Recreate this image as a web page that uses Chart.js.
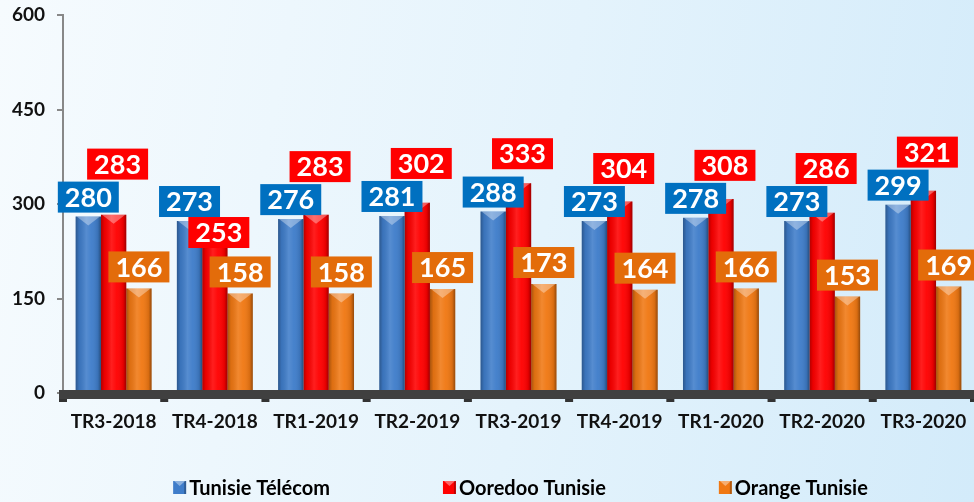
<!DOCTYPE html>
<html>
<head>
<meta charset="utf-8">
<script src="https://cdn.jsdelivr.net/npm/chart.js@4.4.1/dist/chart.umd.min.js"></script>
<style>
  html, body { margin: 0; padding: 0; }
  body {
    width: 974px; height: 502px; overflow: hidden;
    background: linear-gradient(100deg, #f6fbfe 0%, #e4f3fc 55%, #d3ebfa 100%);
  }
  #wrap { position: relative; width: 974px; height: 502px; }
</style>
</head>
<body>
<div id="wrap"><canvas id="chart" width="974" height="502"></canvas></div>
<script>
var quarters = ['TR3-2018', 'TR4-2018', 'TR1-2019', 'TR2-2019', 'TR3-2019', 'TR4-2019', 'TR1-2020', 'TR2-2020', 'TR3-2020'];
var tunisieTelecom = [280, 273, 276, 281, 288, 273, 278, 273, 299];
var ooredooTunisie = [283, 253, 283, 302, 333, 304, 308, 286, 321];
var orangeTunisie = [166, 158, 158, 165, 173, 164, 166, 153, 169];
var yTicks = [0, 150, 300, 450, 600];

var FONT = 'Lato, "Open Sans", sans-serif';

// 3D-ish shading on top of the flat bars
var barShade = {
  id: 'barShade',
  afterDatasetsDraw: function (chart) {
    var ctx = chart.ctx;
    ctx.save();
    chart.data.datasets.forEach(function (ds, d) {
      var meta = chart.getDatasetMeta(d);
      meta.data.forEach(function (el) {
        var p = el.getProps(['x', 'y', 'base', 'width'], true);
        var left = p.x - p.width / 2, right = p.x + p.width / 2;
        var g = ctx.createLinearGradient(left, 0, right, 0);
        g.addColorStop(0, 'rgba(0,0,0,0.30)');
        g.addColorStop(0.14, 'rgba(0,0,0,0.08)');
        g.addColorStop(0.42, 'rgba(255,255,255,0.12)');
        g.addColorStop(0.62, 'rgba(255,255,255,0.04)');
        g.addColorStop(0.88, 'rgba(0,0,0,0.10)');
        g.addColorStop(1, 'rgba(0,0,0,0.38)');
        ctx.fillStyle = g;
        ctx.fillRect(left, p.y, p.width, p.base - p.y);
        // bevelled top
        ctx.beginPath();
        ctx.moveTo(left + 1, p.y);
        ctx.lineTo(right - 1, p.y);
        ctx.lineTo(p.x, p.y + 9);
        ctx.closePath();
        ctx.fillStyle = 'rgba(255,255,255,0.35)';
        ctx.fill();
      });
    });

    // dark floor under the bars
    var area = chart.chartArea;
    var y0 = chart.scales.y.getPixelForValue(0);
    ctx.fillStyle = '#404040';
    ctx.fillRect(area.left - 4, y0 - 3, area.right - area.left + 4, 9);
    var step = (area.right - area.left) / quarters.length;
    ctx.fillStyle = '#333333';
    for (var i = 0; i <= quarters.length; i++) {
      var bx = area.left + i * step;
      ctx.fillRect(bx - 4, y0 + 6, 8, 3);
    }
    ctx.restore();
  }
};

function labelBox(ctx, text, cx, bottom, color) {
  var w = ctx.measureText(text).width + 14, h = 31;
  ctx.fillStyle = color;
  ctx.fillRect(cx - w / 2, bottom - h, w, h);
  ctx.fillStyle = '#ffffff';
  ctx.fillText(text, cx, bottom - h / 2 + 1);
  return bottom - h;
}

var valueLabels = {
  id: 'valueLabels',
  afterDatasetsDraw: function (chart) {
    var ctx = chart.ctx;
    var blue = chart.getDatasetMeta(0).data;
    var red = chart.getDatasetMeta(1).data;
    var org = chart.getDatasetMeta(2).data;
    ctx.save();
    ctx.font = 'bold 27px ' + FONT;
    ctx.textAlign = 'center';
    ctx.textBaseline = 'middle';
    for (var i = 0; i < quarters.length; i++) {
      labelBox(ctx, String(orangeTunisie[i]), org[i].x, org[i].y - 6, '#e36c0a');
      var blueBottom = blue[i].y - 4;
      var blueTop = blueBottom - 31;
      var redBottom;
      if (ooredooTunisie[i] >= tunisieTelecom[i]) {
        redBottom = Math.min(red[i].y - 14, blueTop - 2);
      } else {
        redBottom = blueBottom + 31;
      }
      labelBox(ctx, String(ooredooTunisie[i]), red[i].x + 4, redBottom, '#ff0000');
      labelBox(ctx, String(tunisieTelecom[i]), blue[i].x, blueBottom, '#0070c0');
    }
    ctx.restore();
  }
};

var bottomLegend = {
  id: 'bottomLegend',
  afterDraw: function (chart) {
    var ctx = chart.ctx;
    var area = chart.chartArea;
    ctx.save();
    ctx.font = 'bold 20px ' + FONT;
    var items = chart.data.datasets.map(function (ds) {
      return { text: ds.label, color: ds.backgroundColor, w: 13 + 3 + ctx.measureText(ds.label).width };
    });
    var gap = 113;
    var total = items.reduce(function (s, it) { return s + it.w; }, 0) + gap * (items.length - 1);
    var x = (area.left + area.right) / 2 - total / 2 + 2;
    var cy = chart.height - 14;
    ctx.textBaseline = 'middle';
    ctx.textAlign = 'left';
    items.forEach(function (it) {
      ctx.fillStyle = it.color;
      ctx.fillRect(x, cy - 7, 13, 13);
      ctx.fillStyle = 'rgba(0,0,0,0.25)';
      ctx.fillRect(x + 11, cy - 7, 2, 13);
      ctx.beginPath();
      ctx.moveTo(x + 1, cy - 7);
      ctx.lineTo(x + 12, cy - 7);
      ctx.lineTo(x + 6.5, cy - 2);
      ctx.closePath();
      ctx.fillStyle = 'rgba(255,255,255,0.4)';
      ctx.fill();
      ctx.fillStyle = '#000000';
      ctx.fillText(it.text, x + 16, cy + 1);
      x += it.w + gap;
    });
    ctx.restore();
  }
};

new Chart(document.getElementById('chart'), {
  type: 'bar',
  data: {
    labels: quarters,
    datasets: [
      { label: 'Tunisie Télécom', data: tunisieTelecom, backgroundColor: '#3f7dca' },
      { label: 'Ooredoo Tunisie', data: ooredooTunisie, backgroundColor: '#ff0000' },
      { label: 'Orange Tunisie', data: orangeTunisie, backgroundColor: '#f07813' }
    ]
  },
  options: {
    responsive: false,
    animation: false,
    devicePixelRatio: 1,
    layout: { padding: { top: 15, right: 0, bottom: 69, left: 0 } },
    datasets: {
      bar: { categoryPercentage: 0.75, barPercentage: 1.0, borderWidth: 0 }
    },
    plugins: {
      legend: { display: false },
      tooltip: { enabled: false }
    },
    scales: {
      x: {
        grid: { display: false, drawTicks: false },
        border: { display: false },
        ticks: {
          color: '#111111',
          font: { family: FONT, size: 19, weight: 'bold' },
          padding: 17,
          maxRotation: 0,
          autoSkip: false
        },
        afterFit: function (scale) {
          scale.height = 40;
          scale.paddingLeft = 0;
          scale.paddingRight = 0;
        }
      },
      y: {
        min: 0,
        max: 600,
        afterBuildTicks: function (scale) {
          scale.ticks = yTicks.map(function (v) { return { value: v }; });
        },
        grid: { drawOnChartArea: false, drawTicks: true, tickLength: 6, color: '#888888', lineWidth: 2 },
        border: { display: true, color: '#888888', width: 2 },
        ticks: {
          color: '#111111',
          font: { family: FONT, size: 19, weight: 'bold' },
          padding: 12
        },
        afterFit: function (scale) {
          scale.width = 63;
          scale.paddingTop = 0;
          scale.paddingBottom = 0;
        }
      }
    }
  },
  plugins: [barShade, valueLabels, bottomLegend]
});
</script>
</body>
</html>
